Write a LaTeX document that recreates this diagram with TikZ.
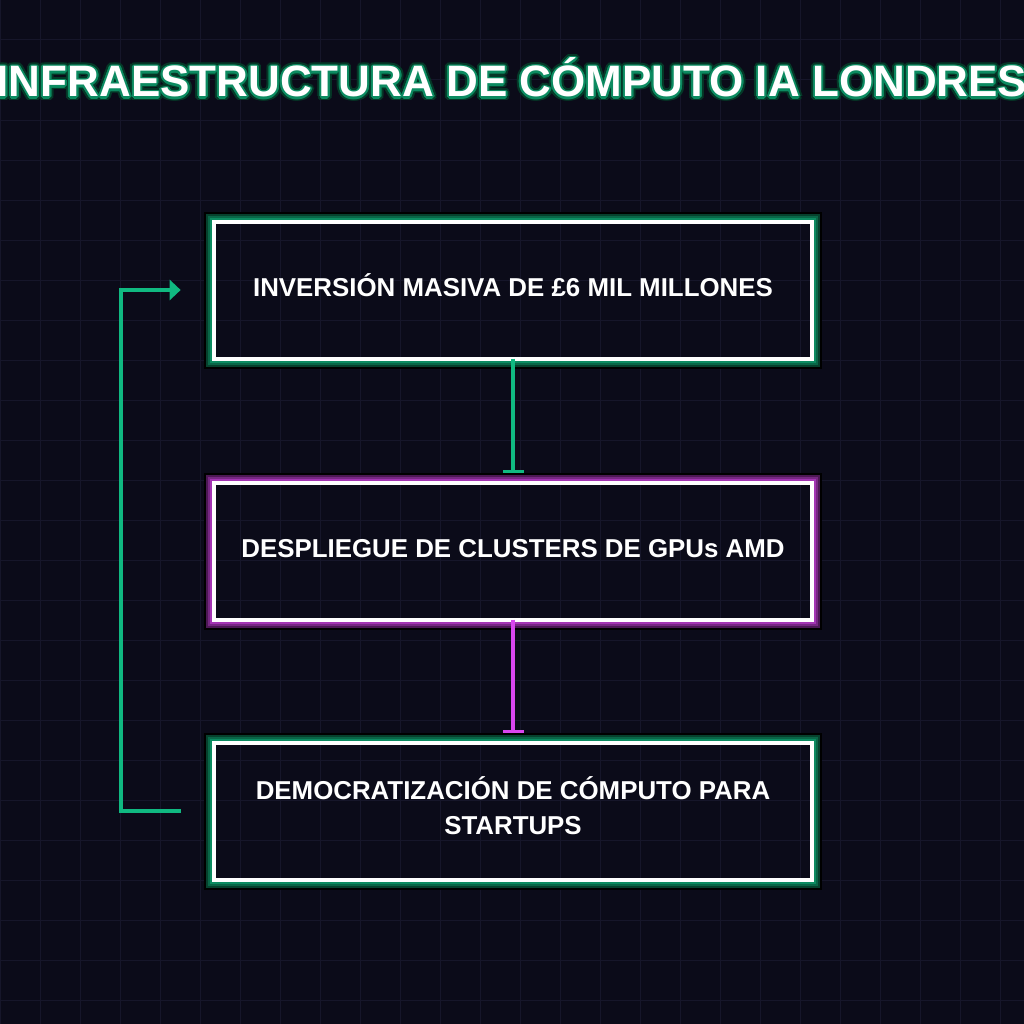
\documentclass[tikz,border=0pt]{standalone}
\usepackage{fontspec}
\setmainfont{Liberation Sans}
\usetikzlibrary{arrows.meta, positioning}

\definecolor{bgdark}{HTML}{0B0B19}
\definecolor{gridc}{HTML}{16162A}
\definecolor{emerald}{HTML}{10B981}
\definecolor{fuchsia}{HTML}{D946EF}

\tikzset{
  box/.style={draw=white, line width=3pt, outer sep=0pt, inner sep=0pt,
    minimum width=448.5pt, minimum height=102.75pt, text=white, align=center,
    text height=13pt, text depth=4pt,
    font=\bfseries\fontsize{19.4}{26}\selectfont},
  titletext/.style={font=\bfseries\fontsize{33}{40}\selectfont, anchor=base, inner sep=0pt},
  link/.style={line width=3pt},
}

\begin{document}
\begin{tikzpicture}[x=0.75pt, y=-0.75pt]
  \fill[bgdark] (0,0) rectangle (1024,1024);
  \useasboundingbox (0,0) rectangle (1024,1024);
  % background grid
  \foreach \g in {0,40,...,1000} {
    \draw[gridc, line width=0.75pt] (\g,0) -- (\g,1024);
    \draw[gridc, line width=0.75pt] (0,\g) -- (1024,\g);
  }

  % title with glow
  \foreach \a in {0,20,...,340} {
    \node[titletext, text=emerald!30!black] (halo-\a) at ([shift={(\a:4)}]512,97) {INFRAESTRUCTURA DE CÓMPUTO IA LONDRES};
  }
  \foreach \a in {0,30,...,330} {
    \node[titletext, text=emerald!75!black] (rim-\a) at ([shift={(\a:2)}]512,97) {INFRAESTRUCTURA DE CÓMPUTO IA LONDRES};
  }
  \node[titletext, text=white] (title) at (512,97) {INFRAESTRUCTURA DE CÓMPUTO IA LONDRES};

  % boxes
  \node[box] (invest) at (513,290) {INVERSIÓN MASIVA DE £6 MIL MILLONES};
  \node[box, below=93pt of invest] (deploy) {DESPLIEGUE DE CLUSTERS DE GPUs AMD};
  \node[box, below=92.25pt of deploy, text height=39.1pt] (startups) {DEMOCRATIZACIÓN DE CÓMPUTO PARA\\STARTUPS};

  % glow round the boxes
  \foreach \b/\c in {invest/emerald, deploy/fuchsia, startups/emerald}
    \foreach \o/\k in {3/\c!75!black, 5/\c!55!black, 7/\c!35!black, 9/black}
      \draw[\k, line width=1.5pt] ([shift={(-\o,-\o)}]\b.north west) rectangle ([shift={(\o,\o)}]\b.south east);

  % connectors
  \draw[link, emerald, -{Bar[width=15.75pt, line width=2pt]}] (invest.south) -- ([yshift=7.5pt]deploy.north);
  \draw[link, fuchsia, -{Bar[width=15.75pt, line width=2pt]}] (deploy.south) -- ([yshift=7.5pt]startups.north);
  \draw[link, emerald, -{Triangle[length=8.25pt, width=15pt]}]
    ([xshift=-25pt]startups.west) -- ++(-60,0) |- ([xshift=-25pt]invest.west);
\end{tikzpicture}
\end{document}
